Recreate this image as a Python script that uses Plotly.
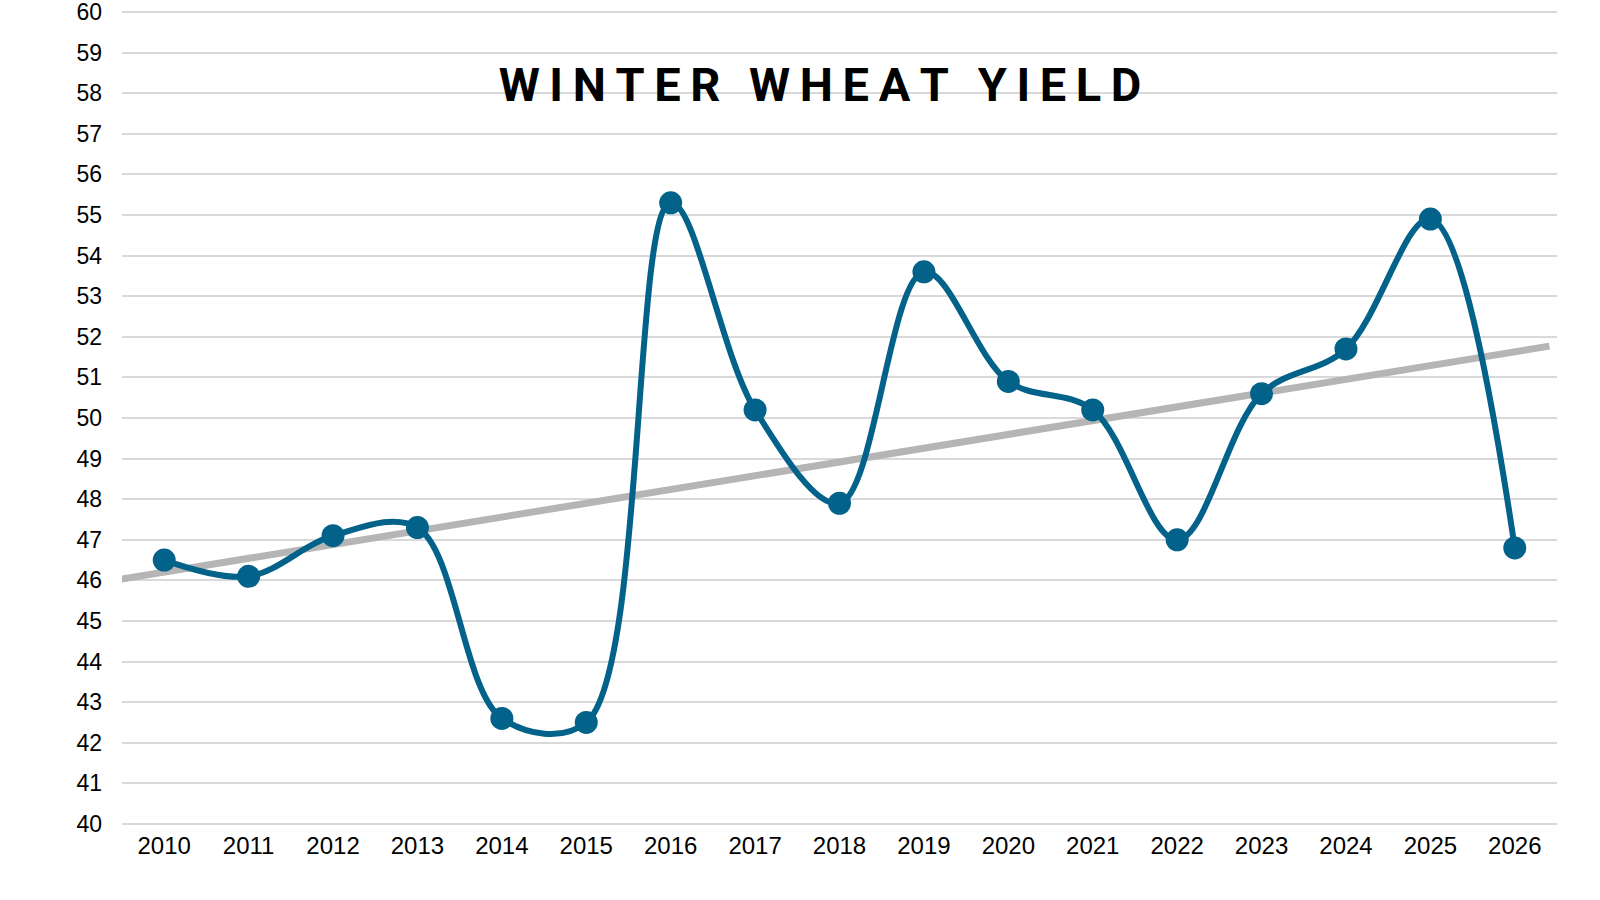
import plotly.graph_objects as go

# Yield per year (bushels per acre)
years = [2010, 2011, 2012, 2013, 2014, 2015, 2016, 2017, 2018,
         2019, 2020, 2021, 2022, 2023, 2024, 2025, 2026]
yields = [46.5, 46.1, 47.1, 47.3, 42.6, 42.5, 55.3, 50.2, 47.9,
          53.6, 50.9, 50.2, 47.0, 50.6, 51.7, 54.9, 46.8]

# Linear trend line end points
trend_years = [2009.4, 2026.41]
trend_values = [46.0, 51.77]

y_ticks = list(range(40, 61))

title_text = "WINTER WHEAT YIELD"
thin = "\u2009"
spaced_title = (thin * 3).join(thin.join(word) for word in title_text.split(" "))

fig = go.Figure()

fig.add_trace(go.Scatter(
    x=trend_years,
    y=trend_values,
    mode="lines",
    line=dict(color="#b5b5b5", width=7),
    hoverinfo="skip",
    showlegend=False,
))

fig.add_trace(go.Scatter(
    x=years,
    y=yields,
    mode="lines+markers",
    line=dict(color="#03628a", width=6, shape="spline", smoothing=1),
    marker=dict(color="#03628a", size=23),
    showlegend=False,
))

fig.update_layout(
    width=1600,
    height=900,
    paper_bgcolor="white",
    plot_bgcolor="white",
    margin=dict(l=122, r=43, t=10, b=74),
    title=dict(
        text=spaced_title,
        x=820 / 1600,
        xanchor="center",
        xref="container",
        y=1 - 85 / 900,
        yanchor="middle",
        yref="container",
        font=dict(family="Roboto", size=47, color="black", weight="bold"),
    ),
    xaxis=dict(
        range=[2009.5, 2026.5],
        tickvals=years,
        ticktext=[str(y) for y in years],
        showgrid=False,
        zeroline=False,
        showline=False,
        ticks="",
        ticklabelstandoff=3,
        automargin=False,
        tickfont=dict(family="Liberation Sans", size=24, color="black"),
    ),
    yaxis=dict(
        # a little padding so the 40 and 60 gridlines are kept
        range=[39.95, 60.05],
        tickvals=y_ticks,
        showgrid=True,
        gridcolor="#d9d9d9",
        gridwidth=1.5,
        zeroline=False,
        showline=False,
        ticks="",
        ticklabelstandoff=19,
        ticklabeloverflow="allow",
        automargin=False,
        tickfont=dict(family="Liberation Sans", size=23, color="black"),
    ),
)

# drop the default body margin so the chart sits at the page corner
fig.write_html(
    "out.html",
    config={"displayModeBar": False},
    post_script="document.body.style.margin = '0';",
)
